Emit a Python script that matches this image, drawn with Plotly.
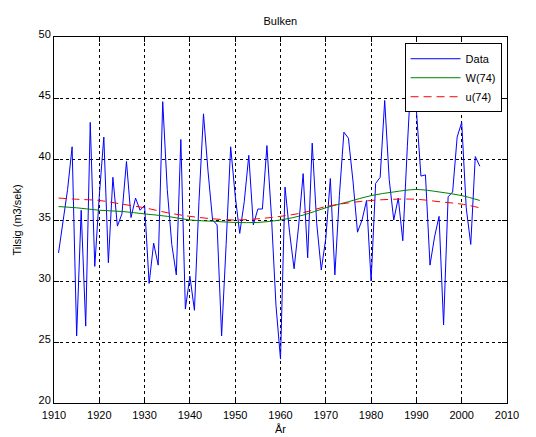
import plotly.graph_objects as go

years = list(range(1911, 2005))
data = [32.3, 34.8, 37.5, 41.0, 25.5, 35.8, 26.3, 43.0, 31.2, 37.0,
        41.8, 31.5, 38.5, 34.5, 35.5, 39.8, 35.2, 36.8, 35.8, 36.2,
        29.8, 33.1, 31.3, 44.7, 37.5, 33.0, 30.5, 41.6, 27.7, 30.4,
        27.6, 36.5, 43.7, 39.0, 35.0, 34.6, 25.5, 33.0, 41.0, 37.0,
        33.9, 36.5, 40.3, 34.6, 35.9, 35.9, 41.1, 35.3, 28.0, 23.6,
        37.7, 34.0, 31.0, 34.5, 38.8, 31.9, 41.3, 34.7, 30.9, 33.5,
        38.4, 30.5, 37.0, 42.2, 41.7, 38.2, 34.0, 35.0, 36.6, 30.0,
        38.0, 38.5, 44.8, 38.3, 35.0, 36.8, 33.3, 41.0, 48.0, 44.0,
        38.6, 38.7, 31.3, 33.6, 35.3, 26.4, 36.9, 37.3, 41.8, 43.0,
        36.0, 33.0, 40.2, 39.4]

smooth_years = [1911, 1915, 1920, 1925, 1930, 1935, 1940, 1945, 1950, 1955,
                1960, 1965, 1970, 1975, 1980, 1985, 1990, 1995, 2000, 2004]
w74 = [36.1, 36.0, 35.8, 35.7, 35.5, 35.3, 35.0, 34.9, 34.8, 34.8,
       35.0, 35.4, 36.0, 36.5, 37.0, 37.3, 37.5, 37.3, 37.0, 36.6]
u74 = [36.8, 36.7, 36.6, 36.3, 36.0, 35.6, 35.3, 35.1, 35.0, 35.1,
       35.3, 35.6, 36.1, 36.4, 36.6, 36.7, 36.7, 36.5, 36.3, 36.0]

x_ticks = list(range(1910, 2011, 10))
y_ticks = list(range(20, 51, 5))

font = "Liberation Sans, Arial, sans-serif"

fig = go.Figure()
fig.add_trace(go.Scatter(x=years, y=data, mode="lines", name="Data",
                         line=dict(color="#0000ff", width=1)))
fig.add_trace(go.Scatter(x=smooth_years, y=w74, mode="lines", name="W(74)",
                         line=dict(color="#008000", width=1, shape="spline")))
fig.add_trace(go.Scatter(x=smooth_years, y=u74, mode="lines", name="u(74)",
                         line=dict(color="#ff0000", width=1, shape="spline", dash="8px,5px")))

axis_common = dict(
    showline=True, linecolor="black", linewidth=1, mirror="ticks",
    ticks="inside", ticklen=5, tickcolor="black",
    showgrid=True, gridcolor="black", gridwidth=1, griddash="3px,3px",
    zeroline=False, automargin=False,
    tickfont=dict(family=font, size=11, color="black"),
)

fig.update_layout(
    width=536, height=437,
    margin=dict(l=54, r=29, t=37, b=34),
    paper_bgcolor="white", plot_bgcolor="white",
    font=dict(family=font, size=11, color="black"),
    title=dict(text="Bulken", x=0.523, xanchor="center",
               y=1 - 21 / 437, yanchor="middle",
               font=dict(family=font, size=11, color="black")),
    xaxis=dict(range=[1910, 2010], tickvals=x_ticks, ticklabelstandoff=2,
               title=dict(text="År", font=dict(family=font, size=11), standoff=5),
               **axis_common),
    yaxis=dict(range=[20, 50], tickvals=y_ticks, ticklabelshift=-3,
               title=dict(text="Tilsig (m3/sek)", font=dict(family=font, size=11), standoff=14),
               **axis_common),
    legend=dict(x=0.988, xanchor="right", y=0.983, yanchor="top",
                bgcolor="white", bordercolor="black", borderwidth=1,
                font=dict(family=font, size=11, color="black"),
                tracegroupgap=4, itemwidth=50),
    showlegend=True,
)

fig.write_html("out.html", config={"displayModeBar": False},
               post_script="document.body.style.margin='0';")
